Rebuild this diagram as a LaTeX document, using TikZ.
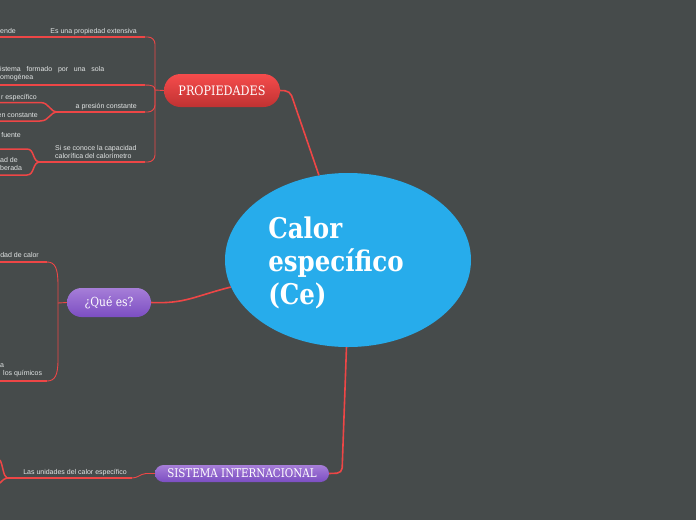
\documentclass[tikz,border=0pt]{standalone}
\usepackage{fontspec}
\setmainfont{Liberation Sans}
\newfontfamily\labfont[FakeStretch=0.86]{DejaVu Serif}
\newfontfamily\ctrfont[FakeStretch=0.86]{DejaVu Serif}
\usetikzlibrary{shapes.geometric}
\definecolor{bg}{RGB}{70,75,75}
\definecolor{ln}{RGB}{238,70,70}
\definecolor{blu}{RGB}{39,172,235}
\definecolor{txt}{RGB}{226,229,229}
\definecolor{redtop}{RGB}{246,76,76}
\definecolor{redbot}{RGB}{192,50,50}
\definecolor{purtop}{RGB}{166,126,216}
\definecolor{purbot}{RGB}{124,78,194}
\tikzset{
  small/.style={font=\fontsize{7}{8}\selectfont, text=txt, inner sep=0pt},
  branch/.style={draw=ln, line width=1.5pt},
  brk/.style={draw=ln, line width=0.9pt},
  conn/.style={draw=ln, line width=1.6pt},
  pill/.style={text=white, inner sep=0pt, font=\labfont\fontsize{13}{15}\selectfont},
  redpill/.style={pill, top color=redtop, bottom color=redbot},
  purpill/.style={pill, top color=purtop, bottom color=purbot},
}
\begin{document}
\begin{tikzpicture}[x=1pt,y=-1pt]
\useasboundingbox (0,0) rectangle (696,520);
\fill[bg] (0,0) rectangle (696,520);
\clip (0,0) rectangle (696,520);

% central ellipse
\node[ellipse, fill=blu, minimum width=246pt, minimum height=174pt, inner sep=0pt] (ce) at (348,260) {};
\node[text=white, align=left, inner sep=0pt, font=\ctrfont\bfseries\fontsize{28.5}{33}\selectfont] (ctext) at (336,263) {Calor\\específico\\(Ce)};

% main topic nodes
\node[redpill, rounded corners=16.5pt, minimum width=116pt, minimum height=33pt] (prop) at (222,90.5) {PROPIEDADES};
\node[purpill, rounded corners=14.5pt, minimum width=84pt, minimum height=29pt, font=\labfont\fontsize{12.5}{14}\selectfont] (qe) at (109,302.5) {¿Qué es?};
\node[purpill, rounded corners=8.5pt, minimum width=174pt, minimum height=17pt, font=\labfont\fontsize{12}{13}\selectfont] (si) at (242,473.5) {SISTEMA INTERNACIONAL};

% connectors to centre
\draw[conn, rounded corners=5pt] (prop.east) -- (290,91) -- (ce);
\draw[conn] (qe.east) .. controls (185,304) and (195,296) .. (ce.193);
\draw[conn, rounded corners=5pt] (si.east) -- (342,473) -- (ce.269);

% ---------- PROPIEDADES branch ----------
\coordinate (pj) at (155,90);
\coordinate (p1R) at (145,37);  \coordinate (p1L) at (0,37);
\coordinate (p2R) at (145,85);  \coordinate (p2L) at (0,85);
\coordinate (p3R) at (145,112); \coordinate (p3J) at (58,112);
\coordinate (p4R) at (145,162); \coordinate (p4J) at (40,162);
\draw[brk] (prop.west) -- (pj);
\draw[brk, rounded corners=7pt] (pj) |- (p1R);
\draw[brk] (pj) .. controls (155,86) and (152,85) .. (p2R);
\draw[brk, rounded corners=7pt] (pj) |- (p3R);
\draw[brk, rounded corners=7pt] (pj) |- (p4R);

\draw[branch] (p1L) -- (p1R);
\node[small, anchor=base east] (t1) at (137,33.5) {Es una propiedad extensiva};
\node[small, anchor=base east] (g1) at (16,33.5) {ende};

\draw[branch] (p2L) -- (p2R);
\node[small, anchor=north west, align=left] (g2) at (0,66.5) {\makebox[104pt][s]{istema formado por una sola}\\omogénea};

\draw[branch] (p3J) -- (p3R);
\node[small, anchor=base east] (t3) at (137,108.5) {a presión constante};
\coordinate (g3aL) at (0,102.5); \coordinate (g3aR) at (40,102.5);
\coordinate (g3bL) at (0,121);   \coordinate (g3bR) at (40,121);
\draw[branch] (g3aL) -- (g3aR) .. controls (50,102.5) and (49,112) .. (p3J);
\draw[branch] (g3bL) -- (g3bR) .. controls (50,121) and (49,112) .. (p3J);
\node[small, anchor=base east] (g3a) at (37,99.5) {r específico};
\node[small, anchor=base east] (g3b) at (38,117) {en constante};

\draw[branch] (p4J) -- (p4R);
\node[small, anchor=north west, align=left] (t4) at (55,145) {Si se conoce la capacidad\\calorífica del calorímetro};
\coordinate (g4aL) at (0,149); \coordinate (g4aR) at (27,149);
\coordinate (g4bL) at (0,175); \coordinate (g4bR) at (27,175);
\draw[branch] (g4aL) -- (g4aR) .. controls (35,149) and (32,162) .. (p4J);
\draw[branch] (g4bL) -- (g4bR) .. controls (35,175) and (32,162) .. (p4J);
\node[small, anchor=base east] (g4a) at (21,137.5) {fuente};
\node[small, anchor=north west, align=left] (g4b) at (0,157) {ad de\\berada};

% ---------- ¿Qué es? branch ----------
\coordinate (qj) at (58,303);
\coordinate (q1R) at (47,262); \coordinate (q1L) at (0,262);
\coordinate (q2R) at (47,381); \coordinate (q2L) at (0,381);
\draw[brk] (qe.west) -- (qj);
\draw[brk] (qj) -- (58,285) .. controls (58,268) and (55,262) .. (q1R);
\draw[brk] (qj) -- (58,360) .. controls (58,375) and (55,381) .. (q2R);
\draw[branch] (q1L) -- (q1R);
\draw[branch] (q2L) -- (q2R);
\node[small, anchor=base east] (g5) at (39,257.5) {dad de calor};
\node[small, anchor=north west, align=left] (g6) at (0,364) {a\\\hspace*{3pt}los químicos};

% ---------- SISTEMA INTERNACIONAL branch ----------
\coordinate (s1R) at (132,478); \coordinate (s1J) at (7,478);
\coordinate (s2L) at (0,460);   \coordinate (s3L) at (0,483);
\draw[brk] (si.west) -- (146,473.5) .. controls (140,474) and (138,478) .. (s1R);
\draw[branch] (s1J) -- (s1R);
\node[small, anchor=base east] (t7) at (127,474) {Las unidades del calor específico};
\draw[branch] (s1J) .. controls (3,476) and (3,465) .. (s2L);
\draw[branch] (s1J) .. controls (4,479) .. (s3L);
\end{tikzpicture}
\end{document}
